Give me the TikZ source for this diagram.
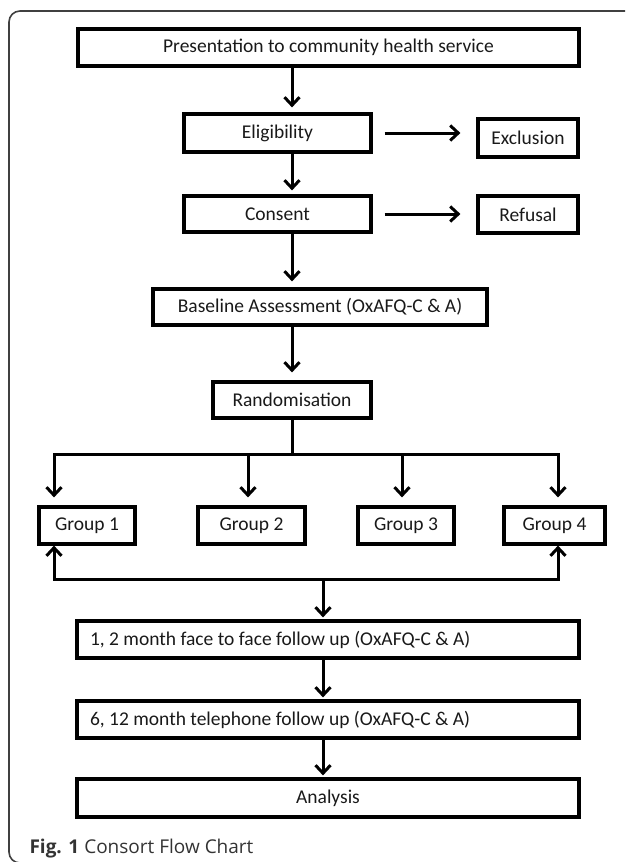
\documentclass[tikz,border=0pt]{standalone}
\usepackage{fontspec}
\setmainfont{Carlito}
\newfontfamily\capfont{Open Sans}
\usepackage{tikz}
\usetikzlibrary{arrows.meta}
\tikzset{
  box/.style={draw, line width=3.2pt, inner sep=0pt, minimum height=37pt,
    font=\fontsize{19.5}{23}\selectfont, text=black!90},
  widebox/.style={box, text width=476pt, align=flush left, inner xsep=13pt},
  arr/.style={line width=3pt, -{Straight Barb[length=8pt,width=15pt]}},
}

\begin{document}
\begin{tikzpicture}[x=1pt, y=-1pt]
  \useasboundingbox (0,0) rectangle (625,862);
  \begin{scope}
    \clip (0,0) rectangle (625,862);
    \draw[black!75, line width=1.6pt, rounded corners=11pt] (9,11) rectangle (700,863);
  \end{scope}

  % main column
  \node[box, minimum width=501pt] at (328.5,47.5) (pres) {Presentation to community health service};
  \node[box, minimum width=187pt, minimum height=38pt] at (277.5,133) (elig) {Eligibility};
  \node[box, minimum width=100pt, minimum height=38pt] at (528,138) (excl) {Exclusion};
  \node[box, minimum width=187pt, minimum height=36pt] at (277.5,214) (cons) {Consent};
  \node[box, minimum width=100pt] at (528,214.5) (refu) {Refusal};
  \node[box, minimum width=334pt, minimum height=36pt] at (320,307) (base) {Baseline Assessment (OxAFQ-C \& A)};
  \node[box, minimum width=158pt, minimum height=36pt] at (292,400) (rand) {Randomisation};

  % groups
  \node[box, minimum width=96pt] at (87,525.5) (g1) {Group 1};
  \node[box, minimum width=107pt] at (251.5,525.5) (g2) {Group 2};
  \node[box, minimum width=96pt] at (406,525.5) (g3) {Group 3};
  \node[box, minimum width=101pt] at (554.5,525.5) (g4) {Group 4};

  % follow up
  \node[widebox] at (328,639.5) (fu1) {1, 2 month face to face follow up (OxAFQ-C \& A)};
  \node[widebox] at (328,719.5) (fu2) {6, 12 month telephone follow up (OxAFQ-C \& A)};
  \node[box, minimum width=502pt, minimum height=38pt] at (328,798) (anal) {Analysis};

  \coordinate (split) at (292,454);
  \coordinate (merge) at (323,579);

  \draw[arr, shorten >=5pt] (pres.south -| rand.north) -- (elig.north -| rand.north);
  \draw[arr, shorten >=4pt] (elig.south -| rand.north) -- (cons.north -| rand.north);
  \draw[arr, shorten >=6pt] (cons.south -| rand.north) -- (base.north -| rand.north);
  \draw[arr, shorten >=8pt] (base.south -| rand.north) -- (rand.north);
  \draw[arr, shorten <=12pt, shorten >=16pt] (elig.east) -- (elig.east -| excl.west);
  \draw[arr, shorten <=12pt, shorten >=16pt] (cons.east) -- (cons.east -| refu.west);

  \draw[line width=3pt] (rand.south) -- (split);
  \draw[arr, shorten >=8pt] (split) -| (54,0 |- g1.north);
  \draw[arr, shorten >=8pt] (split) -| (558,0 |- g4.north);
  \foreach \x/\g in {248/g2, 402/g3} {
    \draw[arr, shorten >=8pt] (\x,454) -- (\x,0 |- \g.north);
  }

  \draw[arr] (merge) -| (54,0 |- g1.south);
  \draw[arr] (merge) -| (558,0 |- g4.south);
  \draw[arr, shorten >=2pt] (merge) -- (merge |- fu1.north);
  \draw[arr, shorten >=2pt] (fu1.south -| merge) -- (fu2.north -| merge);
  \draw[arr, shorten >=2pt] (fu2.south -| merge) -- (anal.north -| merge);

  \node[anchor=base west, text=black!80, font=\capfont\fontsize{19}{22}\selectfont]
    at (26,853) (caption) {\textbf{Fig. 1} Consort Flow Chart};
\end{tikzpicture}
\end{document}
